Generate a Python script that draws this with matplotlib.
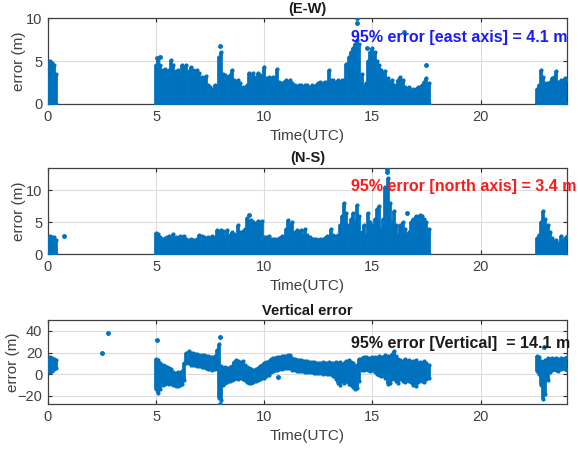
import matplotlib
matplotlib.use('Agg')
import matplotlib.pyplot as plt

plt.rcParams['font.family'] = ['Liberation Sans', 'DejaVu Sans']

# time (hours UTC) of each sampled column, three tracking windows
t_a = [0.0, 0.1, 0.2, 0.3, 0.35]
t_b = [5.0, 5.1, 5.2, 5.3, 5.4, 5.5, 5.6, 5.7, 5.8, 5.9,
       6.0, 6.1, 6.2, 6.3, 6.4, 6.5, 6.6, 6.7, 6.8, 6.9,
       7.0, 7.1, 7.2, 7.3, 7.4, 7.5, 7.6, 7.7, 7.8, 7.9,
       8.0, 8.1, 8.2, 8.3, 8.4, 8.5, 8.6, 8.7, 8.8, 8.9,
       9.0, 9.1, 9.2, 9.3, 9.4, 9.5, 9.6, 9.7, 9.8, 9.9,
       10.0, 10.1, 10.2, 10.3, 10.4, 10.5, 10.6, 10.7, 10.8, 10.9,
       11.0, 11.1, 11.2, 11.3, 11.4, 11.5, 11.6, 11.7, 11.8, 11.9,
       12.0, 12.1, 12.2, 12.3, 12.4, 12.5, 12.6, 12.7, 12.8, 12.9,
       13.0, 13.1, 13.2, 13.3, 13.4, 13.5, 13.6, 13.7, 13.8, 13.9,
       14.0, 14.1, 14.2, 14.3, 14.4, 14.5, 14.6, 14.7, 14.8, 14.9,
       15.0, 15.1, 15.2, 15.3, 15.4, 15.5, 15.6, 15.7, 15.8, 15.9,
       16.0, 16.1, 16.2, 16.3, 16.4, 16.5, 16.6, 16.7, 16.8, 16.9,
       17.0, 17.1, 17.2, 17.3, 17.4, 17.5, 17.6]
t_c = [22.6, 22.7, 22.8, 22.9, 23.0, 23.1, 23.2, 23.3, 23.4, 23.5,
       23.6, 23.7, 23.8, 23.9, 24.0]

# east error, upper edge of the cloud (lower edge is 0)
ew_a = [3.0, 5.0, 4.8, 4.5, 3.5]
ew_b = [4.5, 5.0, 4.5, 4.0, 4.1, 3.8, 4.0, 5.1, 4.5, 3.8,
        4.0, 3.6, 4.5, 4.2, 4.5, 3.8, 4.3, 4.0, 3.8, 4.0,
        3.6, 3.2, 3.0, 3.3, 2.2, 2.0, 1.8, 2.2, 2.0, 5.5,
        6.0, 3.5, 3.4, 3.2, 3.4, 4.0, 2.8, 2.6, 2.8, 2.5,
        2.0, 1.8, 2.2, 3.6, 3.4, 3.6, 3.2, 3.6, 3.4, 3.0,
        4.3, 3.0, 3.2, 3.0, 3.2, 3.0, 4.1, 2.6, 2.4, 2.6,
        2.8, 2.6, 2.8, 2.4, 2.2, 2.0, 2.2, 2.2, 2.0, 2.2,
        2.2, 2.0, 2.2, 2.0, 2.2, 2.4, 2.6, 2.4, 2.6, 2.6,
        4.0, 2.8, 2.8, 2.6, 2.8, 2.6, 2.8, 2.8, 4.7, 5.5,
        6.0, 6.5, 7.0, 7.5, 7.0, 3.5, 2.0, 2.5, 5.0, 6.0,
        6.5, 6.0, 5.0, 4.5, 4.0, 3.5, 3.8, 3.0, 2.5, 2.8,
        2.2, 2.0, 2.8, 3.2, 2.8, 2.0, 1.8, 2.0, 1.6, 1.8,
        1.8, 2.0, 2.0, 2.2, 2.6, 3.0, 2.4]
ew_c = [1.8, 2.2, 4.0, 3.2, 2.5, 2.4, 2.6, 3.0, 3.2, 3.8,
        2.6, 2.8, 2.5, 3.0, 2.8]
ew_out_t = [5.05, 5.2, 7.95, 14.28, 14.3, 14.75, 16.45, 17.5]
ew_out_v = [5.3, 5.5, 6.7, 9.4, 10.0, 6.5, 8.4, 4.5]

# north error, upper edge of the cloud
ns_a = [2.5, 2.8, 2.6, 2.7, 2.2]
ns_b = [3.3, 3.2, 2.6, 2.4, 2.5, 2.6, 2.8, 2.4, 3.1, 2.6,
        2.5, 2.8, 2.7, 2.8, 2.4, 2.2, 2.3, 2.2, 2.2, 2.4,
        3.0, 2.9, 2.6, 2.5, 2.6, 2.4, 2.8, 2.6, 3.7, 3.5,
        3.8, 3.6, 2.8, 3.8, 3.0, 3.5, 3.2, 2.8, 4.5, 3.4,
        3.6, 4.0, 5.6, 5.2, 5.3, 5.0, 4.8, 5.2, 5.0, 5.2,
        2.7, 2.6, 2.8, 2.4, 2.4, 2.3, 2.2, 2.5, 2.8, 2.6,
        4.0, 5.3, 4.5, 5.0, 3.5, 3.7, 3.4, 3.8, 3.0, 3.9,
        3.0, 2.6, 2.4, 2.3, 2.4, 2.2, 2.4, 2.3, 2.5, 2.8,
        2.6, 4.0, 3.0, 2.8, 3.0, 4.5, 6.0, 8.0, 6.5, 4.5,
        5.5, 6.5, 5.0, 7.7, 6.0, 3.5, 4.5, 3.0, 6.5, 5.0,
        4.5, 5.5, 7.0, 7.5, 4.0, 5.5, 10.5, 12.0, 8.0, 5.0,
        6.7, 4.5, 3.0, 4.5, 5.0, 4.0, 3.0, 3.5, 5.0, 5.5,
        6.0, 5.5, 6.2, 6.0, 5.5, 5.0, 4.0]
ns_c = [2.5, 3.0, 5.0, 6.8, 5.5, 4.5, 3.5, 2.5, 2.0, 2.2,
        1.8, 2.8, 2.0, 2.5, 2.8]
ns_out_t = [0.75, 9.3, 15.66, 15.68, 16.6]
ns_out_v = [2.8, 6.2, 12.8, 13.4, 6.4]

# vertical error, upper and lower edge of the cloud
up_a = [14, 16, 15, 14, 13]
lo_a = [4, 2, 3, 5, 6]
up_b = [14, 13, 10, 9, 8, 7, 6, 5, 2, 1,
        2, 1, 3, 10, 20, 21, 20, 20, 19, 19,
        18, 18, 18, 17, 17, 16, 16, 17, 22, 28,
        8, 6, 7, 6, 7, 8, 11, 13, 12, 11,
        12, 9, 7, 6, 5, 4, 5, 6, 8, 9,
        10, 11, 12, 14, 15, 15, 16, 16, 17, 17,
        17, 18, 18, 15, 14, 13, 13, 13, 12, 12,
        12, 11, 11, 11, 10, 10, 10, 11, 10, 10,
        11, 10, 10, 11, 10, 11, 9, 10, 12, 13,
        11, 10, 8, 9, 14, 15, 16, 16, 15, 15,
        16, 16, 15, 17, 16, 16, 18, 17, 16, 19,
        21, 17, 14, 13, 12, 14, 12, 13, 11, 12,
        13, 10, 11, 10, 12, 10, 9]
lo_b = [-14, -17, -14, -10, -9, -8, -9, -8, -10, -11,
        -11, -10, -9, -5, 10, 10, 9, 9, 9, 8,
        8, 7, 7, 6, 5, 5, 4, 5, 6, -22,
        -24, -10, -8, -7, -6, -5, -4, -3, -4, -3,
        -4, -5, -7, -8, -8, -7, -6, -5, -4, -3,
        -3, -2, -1, 2, 3, 4, 4, 5, 5, 6,
        6, 6, 6, 4, 4, 3, 3, 3, 3, 2,
        2, 2, 2, 1, 1, 1, 1, 0, 1, 0,
        0, 0, -2, -4, -8, -10, -6, -8, -6, -9,
        -10, -12, -14, -13, -6, 4, 4, 5, 4, 3,
        4, 2, 0, -1, -2, 0, -3, -9, -8, -4,
        -2, -6, -8, -4, -6, -7, -5, -6, -7, -10,
        -11, -7, -5, -6, -7, -4, -3]
up_c = [17, 16, 12, 10, 13, 15, 14, 15, 14, 15,
        14, 15, 14, 15, 16]
lo_c = [3, 0, -10, -23, -18, -5, 2, 4, 5, 4,
        3, 5, 6, 5, 4]
up_out_t = [2.5, 2.77, 5.02, 7.95, 7.95, 10.63, 22.93]
up_out_v = [19.9, 38.2, 31.3, 34.5, -27.0, -2.1, 25.4]

blue = '#0072BD'
txt = '#262626'

t_all = t_a + t_b + t_c
panels = [
    ('(E-W)', [0] * len(t_all), ew_a + ew_b + ew_c, ew_out_t, ew_out_v,
     (0, 10), [0, 5, 10], '95% error [east axis] = 4.1 m', '#1a1aff', 7.8),
    ('(N-S)', [0] * len(t_all), ns_a + ns_b + ns_c, ns_out_t, ns_out_v,
     (0, 13.5), [0, 5, 10], '95% error [north axis] = 3.4 m', '#ff1a1a', 10.6),
    ('Vertical error', lo_a + lo_b + lo_c, up_a + up_b + up_c, up_out_t, up_out_v,
     (-27.5, 50), [-20, 0, 20, 40], '95% error [Vertical]  = 14.1 m', '#1a1a1a', 28.7),
]

fig = plt.figure(figsize=(5.78, 4.54), dpi=100)
bottoms = [0.771, 0.4405, 0.110]
heights = [0.189, 0.1894, 0.185]
ylab_x = [-0.043, -0.043, -0.054]

for (title, lo, hi, ot, ov, ylim, yticks, note, ncol, ny), b, h, lx in zip(panels, bottoms, heights, ylab_x):
    ax = fig.add_axes([0.083, b, 0.898, h])
    ax.vlines(t_all, lo, hi, colors=blue, lw=2.7, zorder=3)
    ax.plot(t_all, hi, '.', color=blue, ms=4, zorder=3)
    ax.plot(t_all, lo, '.', color=blue, ms=4, zorder=3)
    ax.plot(ot, ov, '.', color=blue, ms=5, zorder=3)
    ax.set_xlim(0, 24)
    ax.set_ylim(*ylim)
    ax.set_xticks([0, 5, 10, 15, 20])
    ax.set_yticks(yticks)
    ax.grid(True, color='#dcdcdc', lw=0.8)
    ax.set_axisbelow(True)
    ax.tick_params(direction='in', top=True, right=True, length=3,
                   labelsize=10.5, colors=txt, labelcolor='#404040', pad=4)
    for s in ax.spines.values():
        s.set_color('#404040')
        s.set_linewidth(0.9)
    ax.set_title(title, fontsize=10.5, fontweight='bold', color='#1a1a1a', pad=4)
    ax.set_xlabel('Time(UTC)', fontsize=11, color='#404040', labelpad=4)
    ax.set_ylabel('error (m)', fontsize=11, color='#404040')
    ax.yaxis.set_label_coords(lx, 0.5)
    ax.text(14.0, ny, note, color=ncol, fontsize=11.5, fontweight='bold',
            ha='left', va='center', zorder=5)

fig.savefig('out.png', dpi=100)
